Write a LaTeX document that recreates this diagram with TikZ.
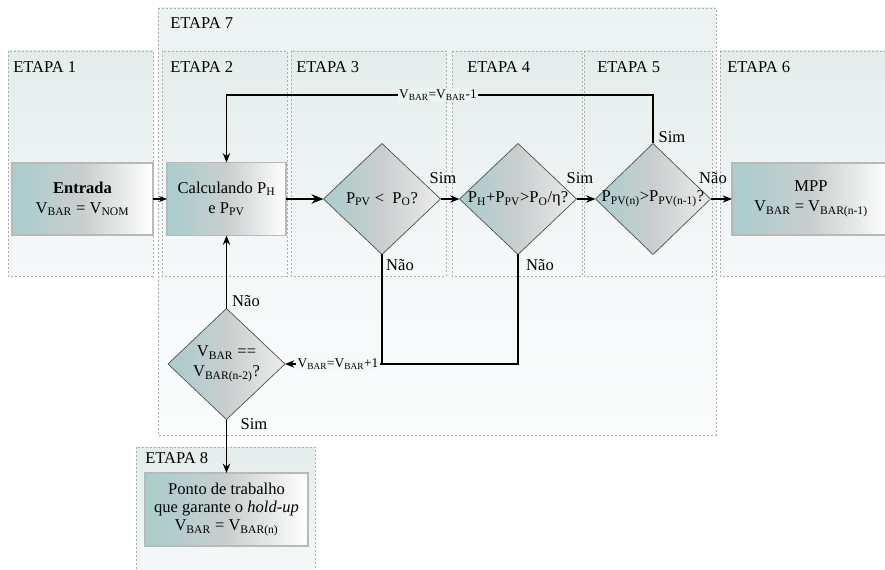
\documentclass[tikz,border=0pt]{standalone}
\usepackage{fontspec}
\setmainfont{Liberation Serif}
\usetikzlibrary{shapes.geometric,arrows.meta}
\definecolor{outertop}{HTML}{EDF3F3}
\definecolor{outerbot}{HTML}{FAFCFC}
\definecolor{stagetop}{HTML}{E4ECEC}
\definecolor{stagebot}{HTML}{F6F9F9}
\definecolor{tealL}{HTML}{A9CDCD}
\definecolor{greyM}{HTML}{C9CECE}
\definecolor{labelbg}{HTML}{EDF2F2}
\newcommand{\sub}[1]{\textsubscript{#1}}
\begin{document}
\begin{tikzpicture}[x=0.75pt,y=-0.75pt,font=\fontsize{12.4}{15}\selectfont,
  stagebox/.style={draw=gray!65,dash pattern=on 1.5pt off 1.5pt,line width=0.5pt,top color=stagetop,bottom color=stagebot},
  outerbox/.style={draw=gray!65,dash pattern=on 1.5pt off 1.5pt,line width=0.5pt,top color=outertop,bottom color=outerbot},
  stagelabel/.style={anchor=west,inner sep=0pt},
  procbox/.style={rectangle,draw=gray!55,line width=0.8pt,left color=tealL,right color=white,middle color=greyM,align=center,inner sep=0pt,outer sep=0pt},
  decision/.style={diamond,draw=gray!60!black,line width=0.5pt,left color=tealL,right color=white!85!gray,middle color=greyM,inner sep=0pt,outer sep=0pt,minimum width=87.75pt,minimum height=83.25pt},
  flow/.style={line width=1.1pt,-{Stealth[length=7pt,width=5.5pt]}},
  plain/.style={line width=1.1pt},
  edgelabel/.style={fill=labelbg,inner sep=1pt,font=\fontsize{10}{12}\selectfont},
  answer/.style={inner sep=0pt}
]
\useasboundingbox (0,0) rectangle (885,570);
\fill[white] (0,0) rectangle (885,570);
% stage boxes
\path[outerbox] (158,8) rectangle (716,435);
\path[stagebox] (8,51) rectangle (153,276);
\path[stagebox] (162,51) rectangle (287,276);
\path[stagebox] (291,51) rectangle (446,276);
\path[stagebox] (452,51) rectangle (582,276);
\path[stagebox] (584,51) rectangle (712,276);
\path[stagebox] (720,51) rectangle (892,276);
\path[stagebox] (136,447) rectangle (315,580);
\node[stagelabel] (s7) at (170,23) {ETAPA 7};
\node[stagelabel] (s1) at (13,67) {ETAPA 1};
\node[stagelabel] (s2) at (170,67) {ETAPA 2};
\node[stagelabel] (s3) at (296,67) {ETAPA 3};
\node[stagelabel] (s4) at (467,67) {ETAPA 4};
\node[stagelabel] (s5) at (597,67) {ETAPA 5};
\node[stagelabel] (s6) at (727,67) {ETAPA 6};
\node[stagelabel] (s8) at (145,458) {ETAPA 8};
% process boxes
\node[procbox,minimum width=105.75pt,minimum height=54pt] (entrada) at (82.5,199)
  {\textbf{Entrada}\\V\sub{BAR} = V\sub{NOM}};
\node[procbox,minimum width=89.25pt,minimum height=54.75pt] (calc) at (226.5,199)
  {Calculando P\sub{H}\\e P\sub{PV}};
\node[procbox,minimum width=118.5pt,minimum height=54pt] (mpp) at (811,199)
  {MPP\\V\sub{BAR} = V\sub{BAR(n-1)}};
\node[procbox,minimum width=122.25pt,minimum height=54.75pt,font=\fontsize{12.4}{13.5}\selectfont] (final) at (226.5,509.5)
  {Ponto de trabalho\\que garante o \textit{hold-up}\\V\sub{BAR} = V\sub{BAR(n)}};
% decisions
\node[decision] (d1) at (382,199) {};
\node[decision] (d2) at (518,199) {};
\node[decision,minimum width=86.25pt] (d3) at (653,199) {};
\node[decision] (d4) at (226.5,364) {};
\node (t1) at (d1) {P\sub{PV} <\ \ P\sub{O}?};
\node (t2) at (d2) {P\sub{H}+P\sub{PV}>P\sub{O}/η?};
\node (t3) at (d3) {P\sub{PV(n)}>P\sub{PV(n-1)}?};
\node[align=center] (t4) at (d4) {V\sub{BAR} ==\\V\sub{BAR(n-2)}?};
% connectors
\coordinate (tl) at (226.5,95);
\draw[line width=0.8pt,-{Stealth[length=6pt,width=4.5pt]}] (entrada) -- (calc);
\draw[line width=1.6pt,-{Stealth[length=9pt,width=7pt]}] (calc) -- (d1);
\draw[flow] (d1) -- (d2);
\draw[flow] (d2) -- (d3);
\draw[flow] (d3) -- (mpp);
\draw[flow] (d3.north) |- (tl) -- (calc.north);
\draw[flow] (d2.south) |- (d4.east);
\draw[plain] (d1.south) -- (d1.south |- d4.east);
\draw[flow] (d4.north) -- (calc.south);
\draw[flow] (d4.south) -- (final.north);
\node[edgelabel] (l1) at (438,95) {V\sub{BAR}=V\sub{BAR}-1};
\node[edgelabel,fill=outertop!50!white] (l2) at (338,364) {V\sub{BAR}=V\sub{BAR}+1};
% answers
\node[answer] (a1) at (443,178) {Sim};
\node[answer] (a2) at (580,178) {Sim};
\node[answer] (a3) at (713,178) {Não};
\node[answer] (a4) at (672,137) {Sim};
\node[answer] (a5) at (400,265) {Não};
\node[answer] (a6) at (540,265) {Não};
\node[answer] (a7) at (246,301) {Não};
\node[answer] (a8) at (254,424) {Sim};
\end{tikzpicture}
\end{document}
